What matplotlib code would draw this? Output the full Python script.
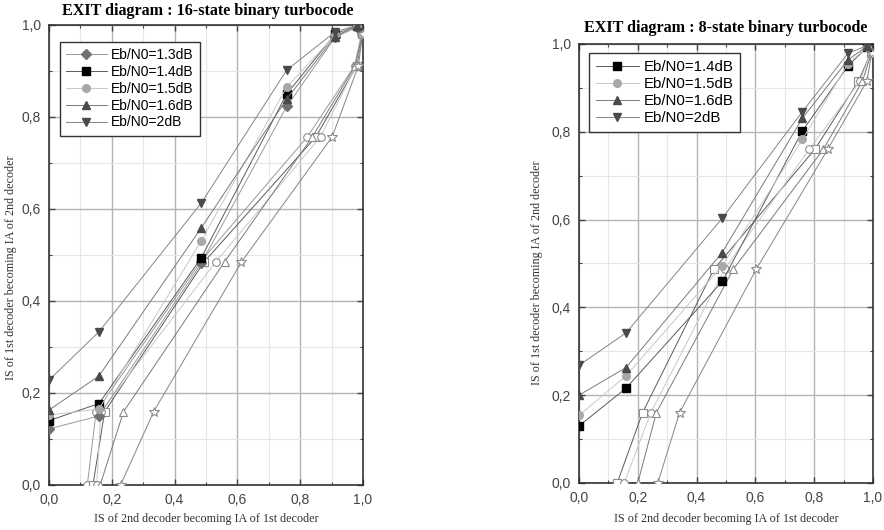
import matplotlib.pyplot as plt
from matplotlib.ticker import MultipleLocator, FuncFormatter

# IA steps of the iterative decoding trajectory
x16 = [0.0, 0.159, 0.485, 0.757, 0.911, 0.98]
x8 = [0.0, 0.16, 0.487, 0.76, 0.915, 0.98]

# 16-state binary turbocode, IS of 1st decoder
y16_13 = [0.122, 0.150, 0.482, 0.823, 0.973, 0.995]
y16_14 = [0.140, 0.177, 0.494, 0.850, 0.980, 0.998]
y16_15 = [0.152, 0.165, 0.531, 0.865, 0.978, 0.997]
y16_16 = [0.163, 0.237, 0.559, 0.839, 0.975, 0.998]
y16_20 = [0.228, 0.333, 0.613, 0.902, 0.985, 0.999]

# 8-state binary turbocode, IS of 1st decoder
y8_14 = [0.130, 0.216, 0.459, 0.802, 0.950, 0.993]
y8_15 = [0.154, 0.244, 0.495, 0.783, 0.955, 0.993]
y8_16 = [0.200, 0.263, 0.525, 0.831, 0.964, 0.995]
y8_20 = [0.268, 0.342, 0.603, 0.846, 0.979, 0.996]

labels = {1.3: 'Eb/N0=1.3dB', 1.4: 'Eb/N0=1.4dB', 1.5: 'Eb/N0=1.5dB',
          1.6: 'Eb/N0=1.6dB', 2.0: 'Eb/N0=2dB'}

# line colour, marker colour, filled marker, open marker
styles = {
    1.3: ('#9a9a9a', '#707070', 'D', 'o'),
    1.4: ('#5a5a5a', '#000000', 's', 's'),
    1.5: ('#c8c8c8', '#a8a8a8', 'o', 'o'),
    1.6: ('#7a7a7a', '#4a4a4a', '^', '^'),
    2.0: ('#858585', '#4a4a4a', 'v', '*'),
}

serif = 'Liberation Serif'
sans = 'Liberation Sans'


def draw_panel(ax, x, curves, ylab_pos, xlab_y, leg_anchor, leg_size):
    # 2nd decoder curves are the transposed ones, open markers
    for snr, y in curves:
        lc, mc, m, mo = styles[snr]
        ms = 7 if mo == '*' else 5.5
        ax.plot(y, x, color=lc, lw=0.7, marker=mo, ms=ms,
                mfc='white', mec='#8c8c8c', mew=0.8, zorder=3)
    for snr, y in curves:
        lc, mc, m, mo = styles[snr]
        ms = 5 if m == 'D' else 5.5
        ax.plot(x, y, color=lc, lw=0.7, marker=m, ms=ms,
                mfc=mc, mec=mc, label=labels[snr], zorder=4)

    ax.set_xlim(0, 1)
    ax.set_ylim(0, 1)
    ax.xaxis.set_major_locator(MultipleLocator(0.2))
    ax.yaxis.set_major_locator(MultipleLocator(0.2))
    ax.xaxis.set_minor_locator(MultipleLocator(0.1))
    ax.yaxis.set_minor_locator(MultipleLocator(0.1))
    fmt = FuncFormatter(lambda v, p: ('%.1f' % v).replace('.', ','))
    ax.xaxis.set_major_formatter(fmt)
    ax.yaxis.set_major_formatter(fmt)
    ax.grid(which='major', color='#b4b4b4', lw=1.0)
    ax.grid(which='minor', color='#e6e6e6', lw=0.8)
    ax.set_axisbelow(True)
    ax.tick_params(which='both', direction='in', top=True, right=True,
                   color='#444444', labelsize=10, labelcolor='#444444')
    ax.tick_params(which='major', length=4, width=1, pad=6)
    ax.tick_params(which='minor', length=2.5, width=0.8)
    for lab in ax.get_xticklabels() + ax.get_yticklabels():
        lab.set_family(sans)
    for s in ax.spines.values():
        s.set_color('#333333')
        s.set_linewidth(1.2)

    ax.set_xlabel('IS of 2nd decoder becoming IA of 1st decoder',
                  fontfamily=serif, fontsize=8.7, color='#333333')
    ax.set_ylabel('IS of 1st decoder becoming IA of 2nd decoder',
                  fontfamily=serif, fontsize=8.7, color='#333333')
    ax.xaxis.set_label_coords(0.5, xlab_y)
    ax.yaxis.set_label_coords(*ylab_pos)

    leg = ax.legend(loc='upper left', bbox_to_anchor=leg_anchor,
                    borderaxespad=0,
                    prop={'family': sans, 'size': leg_size},
                    handlelength=2.9, handletextpad=0.3, labelspacing=0.2,
                    borderpad=0.45, fancybox=False, framealpha=1,
                    edgecolor='#333333')
    leg.get_frame().set_linewidth(1.0)


fig = plt.figure(figsize=(8.84, 5.30), dpi=100)
ax1 = fig.add_axes([49 / 884, 45 / 530, 314 / 884, 460 / 530])
ax2 = fig.add_axes([579 / 884, 47 / 530, 294 / 884, 439 / 530])

draw_panel(ax1, x16, [(1.3, y16_13), (1.4, y16_14), (1.5, y16_15),
                      (1.6, y16_16), (2.0, y16_20)],
           (-0.102, 0.472), -0.061, (0.035, 0.963), 10)
draw_panel(ax2, x8, [(1.4, y8_14), (1.5, y8_15), (1.6, y8_16),
                     (2.0, y8_20)],
           (-0.122, 0.478), -0.068, (0.034, 0.979), 10.8)

fig.text(208 / 884, 1 - 11 / 530, 'EXIT diagram : 16-state binary turbocode',
         ha='center', va='center', fontfamily=serif, fontweight='bold',
         fontsize=11.6)
fig.text(726 / 884, 1 - 28 / 530, 'EXIT diagram : 8-state binary turbocode',
         ha='center', va='center', fontfamily=serif, fontweight='bold',
         fontsize=11.6)

fig.savefig('out.png', dpi=100)
